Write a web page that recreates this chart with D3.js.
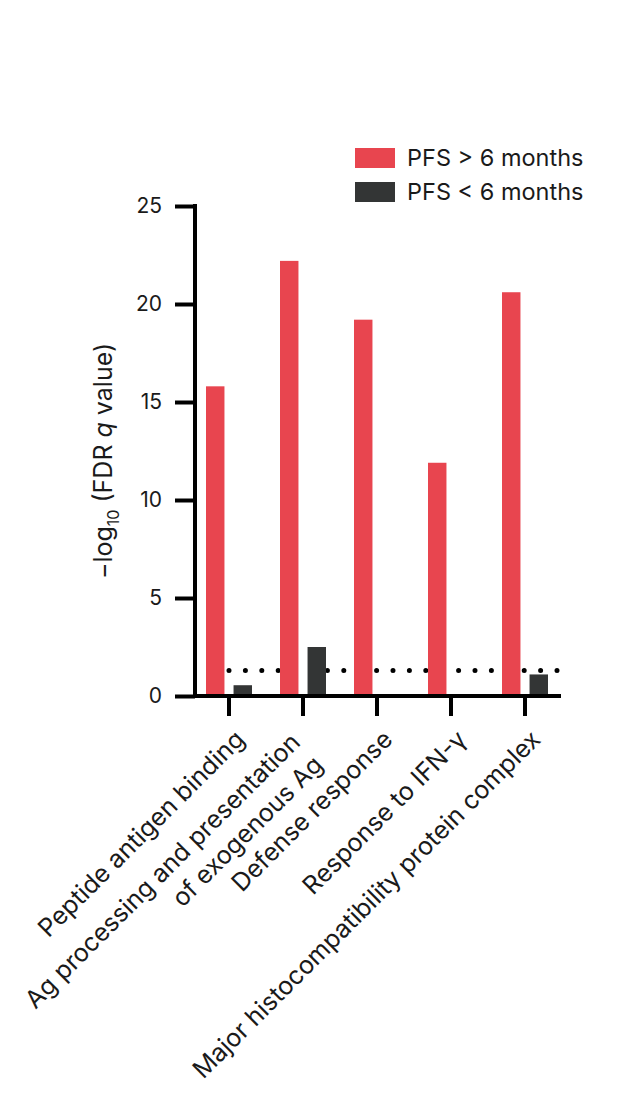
<!DOCTYPE html>
<html lang="en">
<head>
  <meta charset="UTF-8">
  <title>FDR q value bar chart</title>
  <style>
    body { margin: 0; background: #fff; }
    text { font-family: Inter, "Noto Sans", sans-serif; fill: #1a1a1a; }
  </style>
</head>
<body>
  <script src="https://d3js.org/d3.v7.min.js"></script>
  <script>
    const categories = ['Peptide antigen binding', 'Ag processing', 'Defense response', 'Response to IFN-γ', 'Major histocompatibility protein complex'];
    const categoryLines = [
      ['Peptide antigen binding'],
      ['Ag processing and presentation', 'of exogenous Ag'],
      ['Defense response'],
      ['Response to IFN-γ'],
      ['Major histocompatibility protein complex']
    ];
    const seriesNames = ['PFS > 6 months', 'PFS < 6 months'];
    const pfsLong = [15.8, 22.2, 19.2, 11.9, 20.6];
    const pfsShort = [0.55, 2.5, 0, 0, 1.1];
    const yTicks = [0, 5, 10, 15, 20, 25];
    const threshold = 1.3; // q = 0.05

    const width = 634, height = 1106;
    const colors = ['#E8454F', '#333535'];

    const svg = d3.select('body').append('svg')
      .attr('width', width)
      .attr('height', height);

    // scales
    const x0 = d3.scaleBand().domain(categories).range([192, 562]);
    const x1 = d3.scaleBand().domain(seriesNames).range([14, 60]).paddingInner(0.33);
    const y = d3.scaleLinear().domain([0, 25]).range([696, 206]);

    // threshold dotted line (behind bars)
    svg.append('line')
      .attr('x1', x0(categories[0]) + x0.bandwidth() / 2)
      .attr('x2', x0.range()[1] - 5)
      .attr('y1', y(threshold))
      .attr('y2', y(threshold))
      .attr('stroke', '#000')
      .attr('stroke-width', 5)
      .attr('stroke-linecap', 'round')
      .attr('stroke-dasharray', '0 16.4');

    // bars
    const values = [pfsLong, pfsShort];
    seriesNames.forEach((s, si) => {
      svg.append('g').selectAll('rect').data(values[si]).join('rect')
        .attr('x', (d, i) => x0(categories[i]) + x1(s))
        .attr('width', x1.bandwidth())
        .attr('y', d => y(d))
        .attr('height', d => y(0) - y(d))
        .attr('fill', colors[si]);
    });

    // y axis
    const yAxis = svg.append('g')
      .attr('transform', 'translate(195,0)')
      .call(d3.axisLeft(y).tickValues(yTicks).tickSize(20).tickPadding(13))
      .call(g => g.select('.domain').remove());
    yAxis.selectAll('.tick line').attr('stroke', '#000').attr('stroke-width', 4);
    yAxis.selectAll('.tick text').attr('font-size', 21).attr('font-family', 'Inter').attr('fill', '#1a1a1a');
    svg.append('line')
      .attr('x1', 195).attr('x2', 195)
      .attr('y1', y(25) - 2).attr('y2', y(0) + 2)
      .attr('stroke', '#000').attr('stroke-width', 4);

    // x axis
    const xAxis = svg.append('g')
      .attr('transform', `translate(0,${y(0)})`)
      .call(d3.axisBottom(x0).tickSize(20).tickFormat(''))
      .call(g => g.select('.domain').remove());
    xAxis.selectAll('.tick line').attr('stroke', '#000').attr('stroke-width', 4);
    svg.append('line')
      .attr('x1', 193).attr('x2', x0.range()[1] - 1)
      .attr('y1', y(0)).attr('y2', y(0))
      .attr('stroke', '#000').attr('stroke-width', 4);

    // rotated category labels
    const lineGap = 32;
    categoryLines.forEach((lines, i) => {
      const t = x0(categories[i]) + x0.bandwidth() / 2;
      const g = svg.append('g')
        .attr('transform', `translate(${t + 17},741) rotate(-45)`);
      lines.forEach((ln, k) => {
        const off = (k - (lines.length - 1) / 2) * lineGap;
        g.append('text')
          .attr('x', lines.length > 1 ? -15 : 0)
          .attr('y', lines.length > 1 ? off + 5 : 0)
          .attr('text-anchor', 'end')
          .attr('font-size', 25)
          .text(ln);
      });
    });

    // y axis title
    const title = svg.append('text')
      .attr('transform', 'translate(112,461) rotate(-90)')
      .attr('text-anchor', 'middle')
      .attr('font-size', 25);
    title.append('tspan').text('−log');
    title.append('tspan').attr('font-size', 16).attr('dy', 7).text('10');
    title.append('tspan').attr('dy', -7).text(' (FDR ');
    title.append('tspan').attr('font-style', 'italic').text('q');
    title.append('tspan').text(' value)');

    // legend
    const legend = svg.append('g').attr('transform', 'translate(355,148)');
    seriesNames.forEach((s, i) => {
      const row = legend.append('g').attr('transform', `translate(0,${i * 34})`);
      row.append('rect')
        .attr('width', 40)
        .attr('height', 20)
        .attr('fill', colors[i]);
      row.append('text')
        .attr('x', 52)
        .attr('y', 18)
        .attr('font-size', 23.5)
        .text(s);
    });
  </script>
</body>
</html>
